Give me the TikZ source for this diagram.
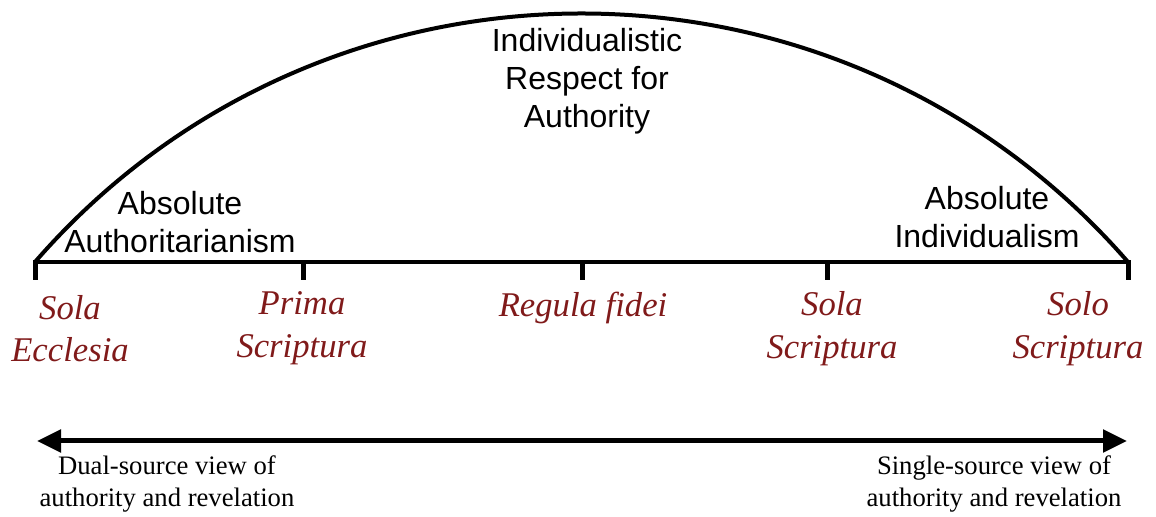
\documentclass[tikz,border=0pt]{standalone}
\usepackage{fontspec}
\setmainfont{Liberation Serif}
\setsansfont{Liberation Sans}
\usepackage{tikz}
\usetikzlibrary{arrows.meta}
\usetikzlibrary{positioning}
\definecolor{latinred}{RGB}{128,26,26}
\tikzset{
  heading/.style={font=\sffamily\fontsize{24}{28.5}\selectfont, align=center, inner sep=0pt},
  latinlbl/.style={font=\itshape\fontsize{26}{32}\selectfont, text=latinred, align=center, inner sep=0pt},
  viewlbl/.style={font=\fontsize{20}{24}\selectfont, align=center, inner sep=0pt},
  tickmark/.style={line width=3.75pt},
  spectrum/.style={line width=3pt}
}

\begin{document}
\begin{tikzpicture}[x=0.75pt,y=0.75pt]
\useasboundingbox (0,0) rectangle (1156,517);

% axis and arc
\coordinate (left) at (35,255);
\coordinate (right) at (1128,255);
\draw[spectrum] (left) -- (right);
\draw[spectrum] (left) to[bend left=49, looseness=1.03] (right);

\foreach \x/\n in {35/ta,303/tb,582/tc,827/td,1128/te}
  \draw[tickmark] (\x,256.5) coordinate (\n) -- (\x,237);

\node[heading] (respect) at (587,436) {Individualistic\\Respect for\\Authority};
\node[heading] (authorit) at (180,295) {Absolute\\Authoritarianism};
\node[heading] (individ) at (987,299.5) {Absolute\\Individualism};

% positions on the axis
\node[latinlbl] (ecclesia) at (70,188.5) {Sola\\Ecclesia};
\node[latinlbl] (prima) at (302,188.5) {Prima\\Scriptura};
\node[latinlbl] (regula) at (583,209) {Regula fidei};
\node[latinlbl] (solascr) at (832,188.5) {Sola\\Scriptura};
\node[latinlbl] (soloscr) at (1078,188.5) {Solo\\Scriptura};

% bottom arrow
\coordinate (dual) at (37,76);
\coordinate (single) at (1127,76);
\draw[line width=3.75pt, {Triangle[length=18pt,width=16.5pt]}-{Triangle[length=18pt,width=16.5pt]}] (dual) -- (single);
\node[viewlbl] (dualtxt) at (167,33) {Dual-source view of\\authority and revelation};
\node[viewlbl] (singletxt) at (994,33) {Single-source view of\\authority and revelation};
\end{tikzpicture}
\end{document}
